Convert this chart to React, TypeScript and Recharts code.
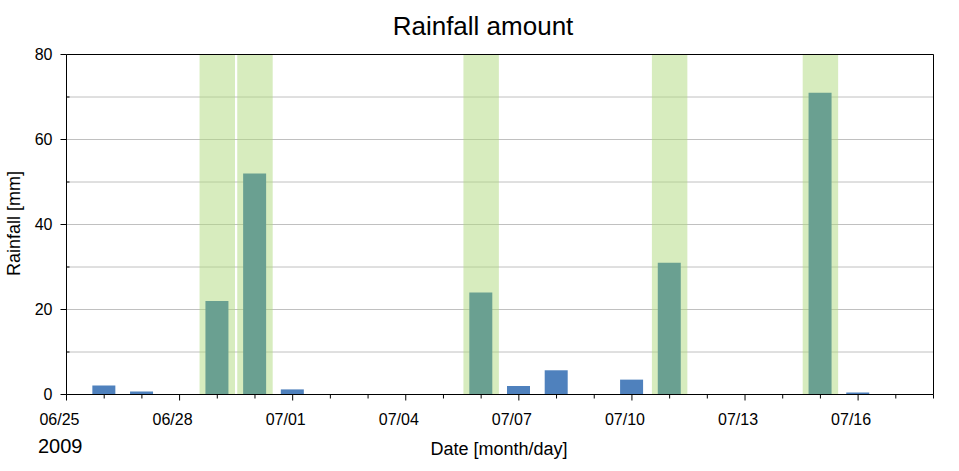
import React from 'react';
import { BarChart, Bar, Cell, XAxis, YAxis, CartesianGrid, ReferenceArea } from 'recharts';

// daily rainfall, 2009
const dates = [
  '06/25', '06/26', '06/27', '06/28', '06/29', '06/30', '07/01', '07/02',
  '07/03', '07/04', '07/05', '07/06', '07/07', '07/08', '07/09', '07/10',
  '07/11', '07/12', '07/13', '07/14', '07/15', '07/16', '07/17', '07/18',
];
const rainfall = [
  0, 2.1, 0.7, 0, 22, 52, 1.2, 0,
  0, 0, 0, 24, 2, 5.7, 0, 3.5,
  31, 0, 0, 0, 71, 0.5, 0, 0,
];
// days with heavy rain (shaded)
const heavyDays = ['06/29', '06/30', '07/06', '07/11', '07/15'];
const labelDates = ['06/25', '06/28', '07/01', '07/04', '07/07', '07/10', '07/13', '07/16'];
const yTicks = [0, 10, 20, 30, 40, 50, 60, 70, 80];
const yLabels = [0, 20, 40, 60, 80];

const FONT = '"Liberation Sans", Arial, sans-serif';
const BLUE = '#4f81bd';
const TEAL = '#6aa091';

const data = dates.map((d, i) => ({ day: i, date: d, rainfall: rainfall[i] }));
const dayTicks = dates.map((_, i) => i);

const XTick = (props: any) => {
  const { x, y, payload } = props;
  const label = dates[payload.value];
  const major = labelDates.includes(label);
  return (
    <g>
      <line x1={x} x2={x} y1={y} y2={y + (major ? 6 : 4)} stroke="#000" />
      {major && (
        <text x={x - 7} y={y + 30} textAnchor="middle" fontSize={16} fontFamily={FONT} fill="#000">
          {label}
        </text>
      )}
    </g>
  );
};

const YTick = (props: any) => {
  const { x, y, payload } = props;
  const major = yLabels.includes(payload.value);
  return (
    <g>
      {major ? (
        <line x1={x - 6} x2={x} y1={y} y2={y} stroke="#000" />
      ) : (
        <line x1={x} x2={x + 3} y1={y} y2={y} stroke="#000" />
      )}
      {major && (
        <text x={x - 14} y={y + 5.5} textAnchor="end" fontSize={16} fontFamily={FONT} fill="#000">
          {payload.value}
        </text>
      )}
    </g>
  );
};

const RTick = (props: any) => {
  const { x, y } = props;
  return <line x1={x - 3} x2={x} y1={y} y2={y} stroke="#000" />;
};

export default function App() {
  return (
    <div style={{ position: 'relative', width: 959, height: 471, background: '#fff' }}>
      <style>{`body{margin:0}`}</style>
      <BarChart
        width={959}
        height={471}
        data={data}
        margin={{ top: 53.5, right: 24.5, left: 6.5, bottom: 46.5 }}
      >
        <CartesianGrid vertical={false} stroke="#c0c0c0" />
        {heavyDays.map((d) => {
          const i = dates.indexOf(d);
          return (
            <ReferenceArea
              key={d}
              x1={i - 0.47}
              x2={i + 0.47}
              y1={0}
              y2={80}
              fill="#afd97d"
              fillOpacity={0.5}
              stroke="none"
            />
          );
        })}
        <XAxis
          dataKey="day"
          type="number"
          domain={[0, 23]}
          ticks={dayTicks}
          interval={0}
          height={30}
          tickSize={0}
          tickMargin={0}
          tickLine={false}
          axisLine={{ stroke: '#000' }}
          tick={XTick}
          allowDataOverflow
        />
        <XAxis
          xAxisId="top"
          orientation="top"
          type="number"
          domain={[0, 23]}
          height={1}
          tick={false}
          tickLine={false}
          axisLine={{ stroke: '#000' }}
        />
        <YAxis
          type="number"
          domain={[0, 80]}
          ticks={yTicks}
          interval={0}
          width={60}
          tickSize={0}
          tickMargin={0}
          tickLine={false}
          axisLine={{ stroke: '#000' }}
          tick={YTick}
        />
        <YAxis
          yAxisId="right"
          orientation="right"
          type="number"
          domain={[0, 80]}
          ticks={yTicks}
          interval={0}
          width={1}
          tickSize={0}
          tickMargin={0}
          tickLine={false}
          axisLine={{ stroke: '#000' }}
          tick={RTick}
        />
        <Bar dataKey="rainfall" barSize={23} isAnimationActive={false}>
          {data.map((e) => (
            <Cell key={e.date} fill={heavyDays.includes(e.date) ? TEAL : BLUE} />
          ))}
        </Bar>
      </BarChart>
      <svg
        width={959}
        height={471}
        style={{ position: 'absolute', left: 0, top: 0, pointerEvents: 'none' }}
      >
        <text x={483} y={35} textAnchor="middle" fontSize={26} fontFamily={FONT} fill="#000">
          Rainfall amount
        </text>
        <text
          transform="translate(20,223.5) rotate(-90)"
          textAnchor="middle"
          fontSize={18}
          fontFamily={FONT}
          fill="#000"
        >
          Rainfall [mm]
        </text>
        <text x={499} y={455} textAnchor="middle" fontSize={18} fontFamily={FONT} fill="#000">
          Date [month/day]
        </text>
        <text x={38} y={453} fontSize={20} fontFamily={FONT} fill="#000">
          2009
        </text>
      </svg>
    </div>
  );
}
